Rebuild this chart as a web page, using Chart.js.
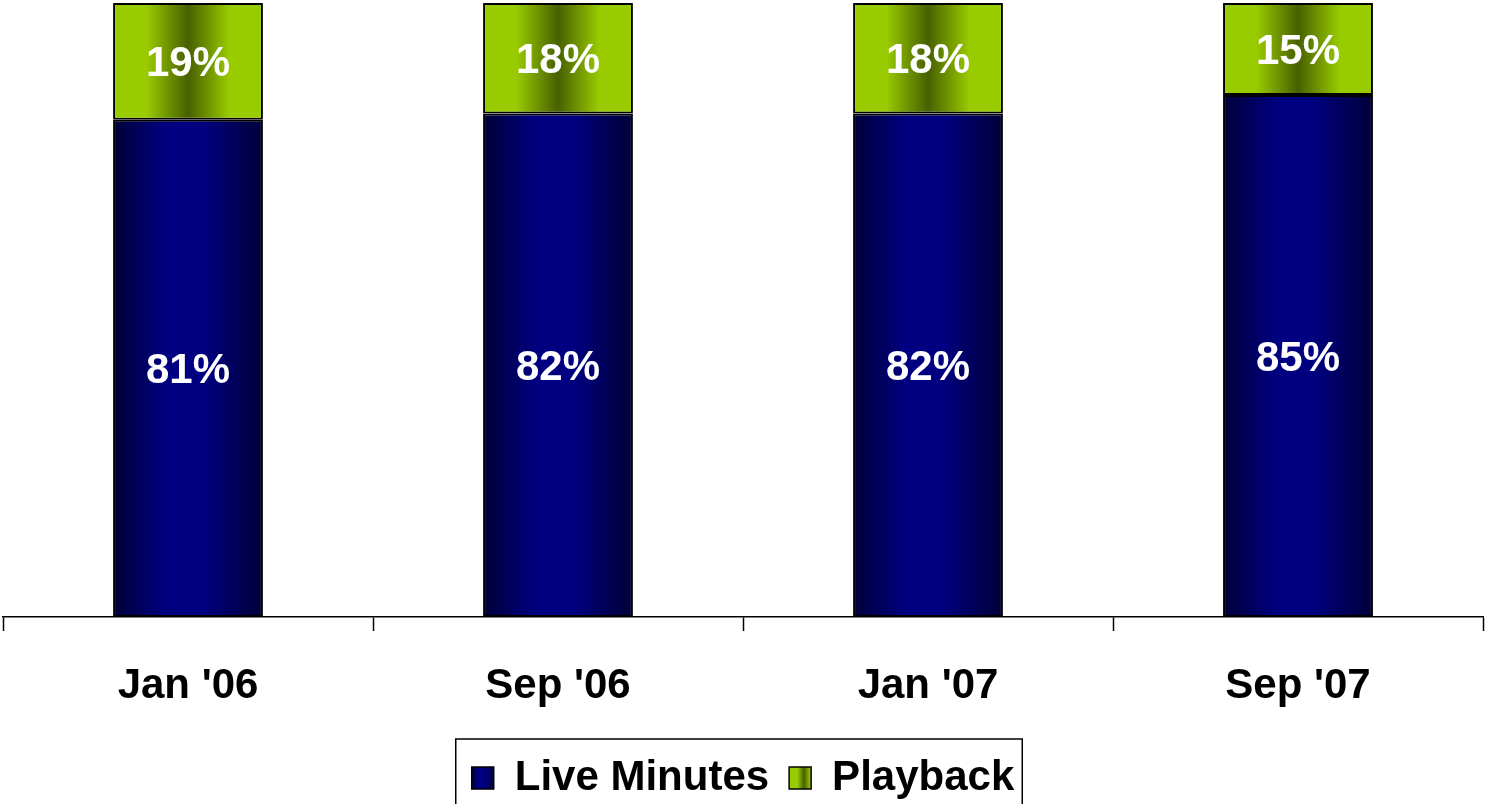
<!DOCTYPE html>
<html><head><meta charset="utf-8">
<script src="https://cdn.jsdelivr.net/npm/chart.js@4"></script>
<style>html,body{margin:0;padding:0;background:#fff;}#wrap{width:1485px;height:804px;}</style>
</head><body><div id="wrap"><canvas id="c" width="1485" height="804"></canvas></div>
<script>
const categories = ["Jan '06", "Sep '06", "Jan '07", "Sep '07"];
const liveMinutes = [81, 82, 82, 85];
const playback = [19, 18, 18, 15];
const seriesNames = ["Live Minutes", "Playback"];

const FONT = "'Liberation Sans', Arial, sans-serif";

function barGradient(ctx, x0, x1, type) {
  const g = ctx.createLinearGradient(x0, 0, x1, 0);
  if (type === 'blue') {
    g.addColorStop(0, '#000038');
    g.addColorStop(0.35, '#000080');
    g.addColorStop(0.6, '#000080');
    g.addColorStop(1, '#000038');
  } else {
    g.addColorStop(0, '#99CC00');
    g.addColorStop(0.22, '#99CC00');
    g.addColorStop(0.5, '#486000');
    g.addColorStop(0.78, '#99CC00');
    g.addColorStop(1, '#99CC00');
  }
  return g;
}

function scriptedFill(type) {
  return function(context) {
    const chart = context.chart;
    const xs = chart.scales && chart.scales.x;
    if (!xs || context.dataIndex === undefined || !chart.chartArea) {
      return type === 'blue' ? '#000080' : '#99CC00';
    }
    const cx = xs.getPixelForValue(context.dataIndex);
    const w = (xs.width / categories.length) * 0.405;
    return barGradient(chart.ctx, cx - w / 2, cx + w / 2, type);
  };
}

const dataLabelPlugin = {
  id: 'dataLabels',
  afterDatasetsDraw(chart) {
    const ctx = chart.ctx;
    ctx.save();
    ctx.fillStyle = '#ffffff';
    ctx.font = 'bold 42px ' + FONT;
    ctx.textAlign = 'center';
    ctx.textBaseline = 'middle';
    chart.data.datasets.forEach((ds, di) => {
      const meta = chart.getDatasetMeta(di);
      meta.data.forEach((el, i) => {
        const y = (el.y + el.base) / 2;
        ctx.fillText(ds.data[i] + '%', el.x, y + 3);
      });
    });
    ctx.restore();
  }
};

const legendBorderPlugin = {
  id: 'legendBorder',
  afterDraw(chart) {
    const lg = chart.legend;
    if (!lg || !lg.legendHitBoxes || !lg.legendHitBoxes.length) return;
    const hb = lg.legendHitBoxes;
    const left = hb[0].left - 16;
    const right = hb[hb.length - 1].left + hb[hb.length - 1].width + 8;
    const top = 739;
    const ctx = chart.ctx;
    ctx.save();
    ctx.strokeStyle = '#000';
    ctx.lineWidth = 1.5;
    ctx.strokeRect(left, top, right - left, chart.height - top + 10);
    ctx.restore();
  }
};

new Chart(document.getElementById('c'), {
  type: 'bar',
  data: {
    labels: categories,
    datasets: [
      { label: seriesNames[0], data: liveMinutes, backgroundColor: scriptedFill('blue'), borderColor: '#000', borderWidth: 2, borderSkipped: false },
      { label: seriesNames[1], data: playback, backgroundColor: scriptedFill('green'), borderColor: '#000', borderWidth: 2, borderSkipped: false }
    ]
  },
  options: {
    responsive: false,
    animation: false,
    devicePixelRatio: 1,
    layout: { padding: { left: 3, right: 2, top: 3, bottom: -5 } },
    datasets: { bar: { categoryPercentage: 1, barPercentage: 0.405 } },
    scales: {
      x: {
        stacked: true,
        grid: { display: true, offset: true, drawOnChartArea: false, drawTicks: true, tickLength: 14, tickColor: '#000', tickWidth: 1.5 },
        border: { display: true, color: '#000', width: 1.5 },
        ticks: { color: '#000', font: { family: FONT, size: 42, weight: 'bold' }, padding: 30, maxRotation: 0 },
        afterFit(scale) { scale.height = 120; }
      },
      y: { stacked: true, display: false, min: 0, max: 100 }
    },
    plugins: {
      legend: {
        position: 'bottom',
        labels: {
          color: '#000',
          font: { family: FONT, size: 42, weight: 'bold' },
          boxWidth: 22, boxHeight: 22, padding: 20,
          generateLabels(chart) {
            return chart.data.datasets.map((ds, i) => ({
              text: ds.label,
              fillStyle: i === 0 ? barGradient(chart.ctx, 470, 494, 'blue') : barGradient(chart.ctx, 792, 816, 'green'),
              strokeStyle: '#000', lineWidth: 1.5, hidden: false, datasetIndex: i
            }));
          }
        }
      },
      tooltip: { enabled: false }
    }
  },
  plugins: [dataLabelPlugin, legendBorderPlugin]
});
</script></body></html>
